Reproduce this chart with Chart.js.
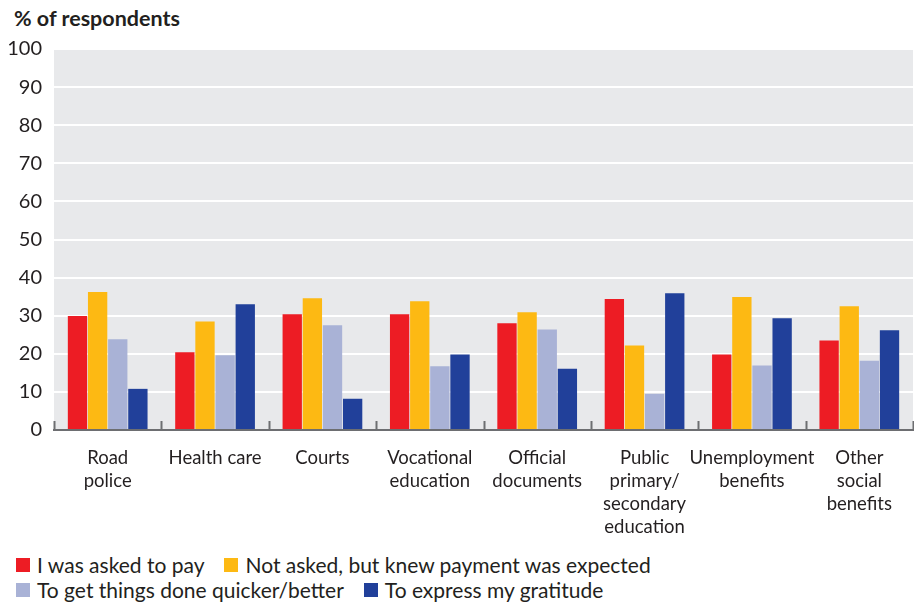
<!DOCTYPE html>
<html>
<head>
<meta charset="utf-8">
<script src="https://cdn.jsdelivr.net/npm/chart.js@4.4.1/dist/chart.umd.min.js"></script>
<style>
  body { margin: 0; background: #fff; font-family: Lato, sans-serif; color: #231f20; }
  .wrap { position: relative; width: 914px; height: 602px; }
  .title { position: absolute; left: 14px; top: 5px; font-size: 21.5px; font-weight: bold; }
  .box { position: absolute; left: 0; top: 0; width: 914px; height: 545px; }
  .legend { position: absolute; left: 16px; top: 552px; font-size: 21px; }
  .lg-row { height: 25px; display: flex; align-items: center; }
  .lg-item { display: flex; align-items: center; margin-right: 20px; }
  .lg-sw { width: 14px; height: 14px; margin-right: 7px; }
</style>
</head>
<body>
<div class="wrap">
  <div class="title">% of respondents</div>
  <div class="box"><canvas id="bribeChart"></canvas></div>
  <div class="legend" id="legend"></div>
</div>
<script>
const categories = [
  ['Road', 'police'], ['Health care'], ['Courts'], ['Vocational', 'education'],
  ['Official', 'documents'], ['Public', 'primary/', 'secondary', 'education'],
  ['Unemployment', 'benefits'], ['Other', 'social', 'benefits']
];
const askedToPay   = [29.9, 20.4, 30.4, 30.4, 28.0, 34.4, 19.8, 23.5];
const knewExpected = [36.2, 28.5, 34.6, 33.8, 30.9, 22.2, 34.9, 32.5];
const quickerBetter = [23.8, 19.6, 27.5, 16.7, 26.4, 9.5, 16.9, 18.2];
const gratitude    = [10.8, 33.0, 8.2, 19.8, 16.1, 35.9, 29.3, 26.2];
const yTicks = [0, 10, 20, 30, 40, 50, 60, 70, 80, 90, 100];

const series = [
  { label: 'I was asked to pay', data: askedToPay, color: '#ed1c24' },
  { label: 'Not asked, but knew payment was expected', data: knewExpected, color: '#fdb913' },
  { label: 'To get things done quicker/better', data: quickerBetter, color: '#a9b2d6' },
  { label: 'To express my gratitude', data: gratitude, color: '#21409a' }
];

// grey plot background + small upward category ticks on the baseline
const plotDeco = {
  id: 'plotDeco',
  beforeDraw(chart) {
    const a = chart.chartArea, c = chart.ctx;
    c.save();
    c.fillStyle = '#e8e9eb';
    c.fillRect(a.left, a.top, a.right - a.left, a.bottom - a.top);
    c.restore();
  },
  afterDatasetsDraw(chart) {
    const a = chart.chartArea, c = chart.ctx, x = chart.scales.x;
    const half = (x.getPixelForValue(1) - x.getPixelForValue(0)) / 2;
    c.save();
    c.strokeStyle = '#6d6e71';
    c.lineWidth = 2;
    for (let i = 0; i <= categories.length; i++) {
      const px = Math.round(x.getPixelForValue(i) - half) + 0.5;
      c.beginPath();
      c.moveTo(px, a.bottom);
      c.lineTo(px, a.bottom - 9);
      c.stroke();
    }
    c.restore();
  }
};

const ctx = document.getElementById('bribeChart');

new Chart(ctx, {
  type: 'bar',
  data: {
    labels: categories,
    datasets: series.map(s => ({
      label: s.label,
      data: s.data,
      backgroundColor: s.color,
      borderWidth: 0,
      categoryPercentage: 0.75,
      barPercentage: 0.96
    }))
  },
  options: {
    responsive: true,
    maintainAspectRatio: false,
    animation: false,
    layout: { padding: { top: 49, right: 1, left: 0, bottom: 0 } },
    plugins: {
      legend: { display: false },
      tooltip: { enabled: false }
    },
    scales: {
      x: {
        afterFit: s => { s.height = 115; },
        grid: { display: false, drawTicks: false },
        border: { display: true, color: '#6d6e71', width: 2 },
        ticks: {
          color: '#231f20',
          padding: 16,
          maxRotation: 0,
          autoSkip: false,
          font: { size: 18.5, family: 'Lato, sans-serif', lineHeight: 1.25 }
        }
      },
      y: {
        min: 0,
        max: 100,
        afterFit: s => { s.width = 54; },
        afterBuildTicks: s => { s.ticks = yTicks.map(v => ({ value: v })); },
        grid: { color: '#ffffff', lineWidth: 2, drawTicks: false },
        border: { display: false },
        ticks: {
          color: '#231f20',
          padding: 12,
          font: { size: 20, family: 'Lato, sans-serif' }
        }
      }
    }
  },
  plugins: [plotDeco]
});

// legend laid out in two rows like the original
const legendEl = document.getElementById('legend');
[[0, 1], [2, 3]].forEach(row => {
  const r = document.createElement('div');
  r.className = 'lg-row';
  row.forEach(i => {
    const it = document.createElement('div');
    it.className = 'lg-item';
    it.innerHTML = '<span class="lg-sw" style="background:' + series[i].color + '"></span>' + series[i].label;
    r.appendChild(it);
  });
  legendEl.appendChild(r);
});
</script>
</body>
</html>
